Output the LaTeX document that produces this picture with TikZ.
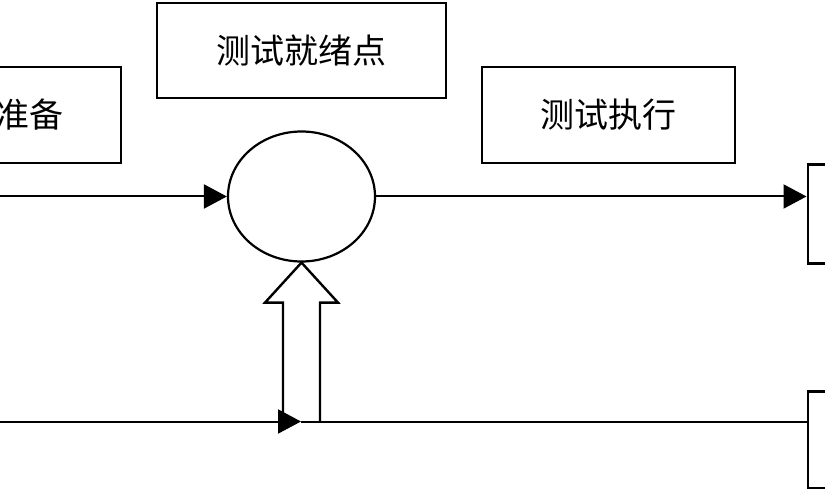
\documentclass[tikz,border=0pt]{standalone}
\usepackage{fontspec}
\newfontfamily\cjk{Noto Sans CJK SC}
\usetikzlibrary{arrows.meta,shapes.geometric,calc}
\begin{document}
\begin{tikzpicture}[x=1pt,y=-1pt,
  box/.style={draw=black, line width=2.6pt, rectangle, inner sep=0pt,
    font=\cjk\fontsize{34}{40}\selectfont},
  conn/.style={draw=black, line width=2pt},
  tip/.style={-{Triangle[length=23pt,width=24pt]}},
  stage/.style={draw=black, line width=2.2pt, ellipse, inner sep=0pt}]
\useasboundingbox (0,0) rectangle (825,489);
\clip (0,0) rectangle (825,489);
\fill[white] (0,0) rectangle (825,489);

% boxes
\node[box, minimum width=251pt, minimum height=96pt] (prep) at (-4.5,115) {测试准备};
\node[box, minimum width=289pt, minimum height=95pt] (ready) at (301.5,50.5) {测试就绪点};
\node[box, minimum width=253pt, minimum height=96pt] (exec) at (608.5,115) {测试执行};
\node[box, minimum width=120pt, minimum height=99pt, anchor=north west] (next) at (806.5,163) {};
\node[box, minimum width=120pt, minimum height=97pt, anchor=north west] (side) at (806.5,390) {};

% readiness point
\node[stage, minimum width=147pt, minimum height=130pt] (pt) at (301.5,196.5) {};

% hollow block arrow from the lower flow up to the readiness point
\draw[draw=black, line width=2.4pt, line join=miter]
  ($(pt.south)+(-18.5,160)$) -- ($(pt.south)+(-18.5,40)$)
  -- ($(pt.south)+(-36.5,40)$) -- (pt.south)
  -- ($(pt.south)+(36.5,40)$) -- ($(pt.south)+(18.5,40)$)
  -- ($(pt.south)+(18.5,160)$);

% upper flow
\coordinate (inA) at (0,196.5);
\draw[conn,tip] (inA) -- (pt.west);
\draw[conn,tip] (pt.east) -- (pt.east -| next.west);

% lower flow
\coordinate (inB) at (0,421.5);
\coordinate (midB) at (301,421.5);
\draw[conn,tip] (inB) -- (midB);
\draw[conn] (midB) -- (midB -| side.west);
\end{tikzpicture}
\end{document}
